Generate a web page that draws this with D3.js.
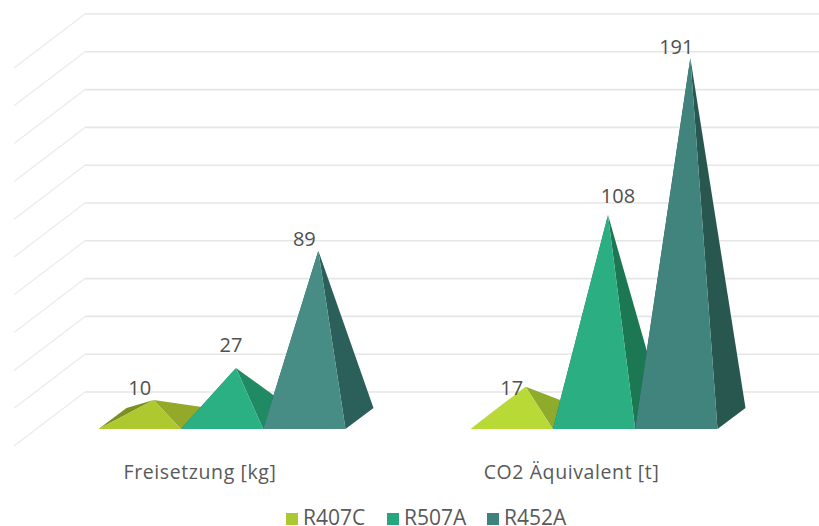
<!DOCTYPE html>
<html><head><meta charset="utf-8">
<script src="https://cdn.jsdelivr.net/npm/d3@7"></script>
<style>html,body{margin:0;background:#fff}svg{display:block}text{font-family:"Open Sans",sans-serif;fill:#595959}</style>
</head><body><svg id="c" width="819" height="526"></svg>
<script>
const categories = ["Freisetzung [kg]", "CO2 Äquivalent [t]"];
const seriesNames = ["R407C", "R507A", "R452A"];
const r407c = [10, 17];
const r507a = [27, 108];
const r452a = [89, 191];
const seriesValues = [r407c, r507a, r452a];
const legendColors = ["#aac832", "#26a67c", "#3f827d"];
const frontColors = [["#aec82f", "#b9d936"], ["#2bb083", "#2bae82"], ["#478d86", "#41837d"]];
const sideColors = [["#94a92a", "#8fab2b"], ["#1f8a63", "#1b7852"], ["#2a5f5a", "#27574f"]];
const leftColors = [["#7c8f22", "#7c8f22"], ["#1a7552", "#1a7552"], ["#224f4c", "#224f4c"]];
const labelShift = [[[-14, -5], [-14, 8]], [[-5, -16], [10, -12]], [[-14, -5], [-14, -4]]];

const svg = d3.select("#c");
const y = d3.scaleLinear().domain([0, 200]).range([392, 14]);
const x0 = d3.scaleBand().domain(categories).range([36, 780]).paddingInner(0.336).paddingOuter(0.168);
const x1 = d3.scaleBand().domain(seriesNames).range([0, x0.bandwidth()]);
const wallDx = 71, wallDy = 54, baseFront = 429, baseBack = 408, baseDepthDx = 28;

// walls
const grid = svg.append("g").attr("fill", "none");
y.ticks(10).forEach(t => {
  grid.append("path").attr("d", d3.line()([[85 - wallDx, y(t) + wallDy], [85, y(t)]]))
    .attr("stroke", "#ececec").attr("stroke-width", 1.3);
  grid.append("path").attr("d", d3.line()([[85, y(t)], [819, y(t)]]))
    .attr("stroke", "#e6e6e6").attr("stroke-width", 1.6);
});

// pyramids
const poly = d3.line();
seriesNames.forEach((s, si) => {
  categories.forEach((c, ci) => {
    const v = seriesValues[si][ci];
    const l = x0(c) + x1(s), r = l + x1.bandwidth();
    const apex = [(l + r) / 2 + baseDepthDx / 2, y(v) + wallDy / 2];
    const g = svg.append("g");
    g.append("path").attr("d", poly([[l, baseFront], [l + baseDepthDx, baseBack], apex]) + "Z").attr("fill", leftColors[si][ci]);
    g.append("path").attr("d", poly([[r, baseFront], [r + baseDepthDx, baseBack], apex]) + "Z").attr("fill", sideColors[si][ci]);
    g.append("path").attr("d", poly([[l, baseFront], [r, baseFront], apex]) + "Z").attr("fill", frontColors[si][ci]);
  });
});

// data labels
seriesNames.forEach((s, si) => {
  categories.forEach((c, ci) => {
    const v = seriesValues[si][ci];
    const cx = x0(c) + x1(s) + x1.bandwidth() / 2 + baseDepthDx / 2;
    svg.append("text").attr("x", cx + labelShift[si][ci][0]).attr("y", y(v) + wallDy / 2 + labelShift[si][ci][1])
      .attr("text-anchor", "middle").attr("font-size", 20).style("fill", "#505050").text(v);
  });
});

// category labels
const catCentre = [200, 571.5];
categories.forEach((c, i) => {
  svg.append("text").attr("x", catCentre[i]).attr("y", 479)
    .attr("text-anchor", "middle").attr("font-size", 19.5).attr("letter-spacing", 0.6).text(c);
});

// legend
const legendX = [286, 387, 487];
seriesNames.forEach((s, i) => {
  svg.append("rect").attr("x", legendX[i]).attr("y", 513).attr("width", 12).attr("height", 12).attr("fill", legendColors[i]);
  svg.append("text").attr("x", legendX[i] + 17).attr("y", 525).attr("font-size", 21).text(s);
});
</script></body></html>
